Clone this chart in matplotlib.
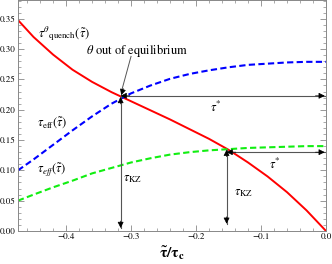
import matplotlib
matplotlib.use("Agg")
import matplotlib.pyplot as plt
from matplotlib.ticker import MultipleLocator

plt.rcParams['font.family'] = ['STIXGeneral', 'DejaVu Serif']
plt.rcParams['mathtext.fontset'] = 'stix'

# curves
tau = [-0.474, -0.45, -0.42, -0.39, -0.36, -0.33, -0.30, -0.27, -0.24,
       -0.21, -0.18, -0.15, -0.12, -0.09, -0.06, -0.03, 0.0]
quench = [0.348, 0.320, 0.291, 0.266, 0.246, 0.229, 0.214, 0.199, 0.184,
          0.168, 0.152, 0.134, 0.113, 0.090, 0.064, 0.034, 0.0]
eff_blue = [0.100, 0.118, 0.142, 0.166, 0.189, 0.210, 0.227, 0.240, 0.251,
            0.259, 0.265, 0.270, 0.274, 0.276, 0.278, 0.279, 0.279]
eff_green = [0.050, 0.060, 0.072, 0.083, 0.095, 0.104, 0.113, 0.120, 0.126,
             0.130, 0.133, 0.135, 0.137, 0.138, 0.139, 0.140, 0.140]

# crossing points (tau_KZ), where the horizontal tau* arrows sit, arrow bottoms
kz_x = [-0.316, -0.153]
kz_y = [0.221, 0.134]
star_y = [0.223, 0.130]
kz_bottom = [0.005, 0.012]

fig = plt.figure(figsize=(3.32, 2.64), dpi=100)
ax = fig.add_axes([0.054, 0.125, 0.928, 0.875])

ax.plot(tau, quench, color='#ff0000', lw=1.4)
ax.plot(tau, eff_blue, color='#0000ff', lw=1.5, dashes=(3, 1.6))
ax.plot(tau, eff_green, color='#11ee11', lw=1.5, dashes=(3, 1.6))

ax.set_xlim(-0.474, 0.0)
ax.set_ylim(0.0, 0.381)

head = dict(arrowstyle='-|>', color='black', lw=0.5, mutation_scale=9,
            shrinkA=0, shrinkB=0)


def arrow(x0, y0, x1, y1, both=True):
    # gray shaft, black heads
    ax.plot([x0, x1], [y0, y1], color='#555555', lw=0.8)
    dx, dy = (x1 - x0), (y1 - y0)
    n = (dx ** 2 / 0.474 ** 2 + dy ** 2 / 0.381 ** 2) ** 0.5
    f = 0.03 / n
    ax.annotate('', xy=(x1, y1), xytext=(x1 - dx * f, y1 - dy * f), arrowprops=head)
    if both:
        ax.annotate('', xy=(x0, y0), xytext=(x0 + dx * f, y0 + dy * f), arrowprops=head)


for x0, y0, ys, yb in zip(kz_x, kz_y, star_y, kz_bottom):
    arrow(x0, y0, x0, yb)
    arrow(x0, ys, -0.002, ys)

ax.plot([-0.300, kz_x[0] + 0.002], [0.288, kz_y[0] + 0.012], color='#555555', lw=0.7)
ax.annotate('', xy=(kz_x[0] + 0.001, kz_y[0] + 0.003),
            xytext=(kz_x[0] + 0.004, kz_y[0] + 0.014), arrowprops=head)
ax.text(-0.370, 0.298, r'$\theta$ out of equilibrium', fontsize=9, va='center')

ax.text(-0.443, 0.325, r'$\tau^{\theta}{}_{\mathrm{quench}}(\tilde{\tau})$',
        fontsize=9, va='center')
ax.text(-0.445, 0.179, r'$\tau_{\mathrm{eff}}(\tilde{\tau})$', fontsize=9, va='center')
ax.text(-0.445, 0.101, r'$\tau_{eff}(\tilde{\tau})$', fontsize=9, va='center')
ax.text(-0.313, 0.086, r'$\tau_{\mathrm{KZ}}$', fontsize=9, va='center')
ax.text(-0.142, 0.063, r'$\tau_{\mathrm{KZ}}$', fontsize=9, va='center')
ax.text(-0.178, 0.203, r'$\tau^{*}$', fontsize=9, va='center')
ax.text(-0.088, 0.109, r'$\tau^{*}$', fontsize=9, va='center')

ax.set_xlabel(r'$\mathbf{\tilde{\tau}/\tau_{c}}$', fontsize=11, labelpad=3)

ax.xaxis.set_major_locator(MultipleLocator(0.1))
ax.xaxis.set_minor_locator(MultipleLocator(0.02))
ax.yaxis.set_major_locator(MultipleLocator(0.05))
ax.yaxis.set_minor_locator(MultipleLocator(0.01))
ax.xaxis.set_major_formatter(lambda v, p: '0.0' if abs(v) < 1e-9 else f'{v:.1f}'.replace('-', '\u2212'))
ax.yaxis.set_major_formatter(lambda v, p: f'{v:.2f}')
ax.tick_params(which='both', direction='in', top=True, right=True,
               color='#888888', labelsize=6.5, pad=1.5)
ax.tick_params(which='major', length=4, width=0.6)
ax.tick_params(which='minor', length=2, width=0.5)
for s in ax.spines.values():
    s.set_color('#888888')
    s.set_linewidth(0.7)

fig.savefig('out.png', dpi=100)
